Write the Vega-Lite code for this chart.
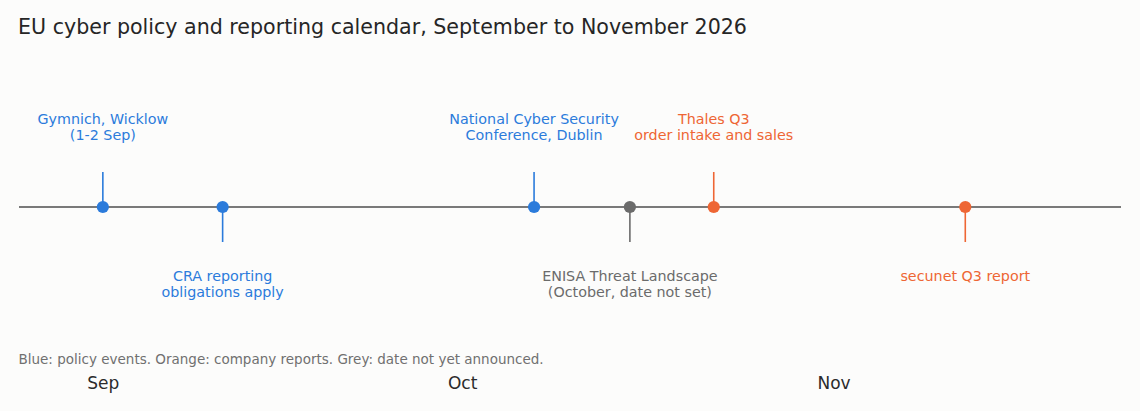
{
  "$schema": "https://vega.github.io/schema/vega-lite/v6.json",
  "width": 1102,
  "height": 312,
  "padding": {"top": 18, "left": 18, "right": 19, "bottom": 21},
  "background": "#fcfcfb",
  "title": {
    "text": "EU cyber policy and reporting calendar, September to November 2026",
    "anchor": "start",
    "fontSize": 20.6,
    "fontWeight": "normal",
    "color": "#262626",
    "font": "DejaVu Sans",
    "offset": 20
  },
  "config": {
    "view": {"stroke": null},
    "font": "DejaVu Sans",
    "text": {"font": "DejaVu Sans"}
  },
  "data": {
    "values": [
      {"date": "2026-09-01", "label": "Gymnich, Wicklow\n(1-2 Sep)", "kind": "policy", "side": "above"},
      {"date": "2026-09-11", "label": "CRA reporting\nobligations apply", "kind": "policy", "side": "below"},
      {"date": "2026-10-07", "label": "National Cyber Security\nConference, Dublin", "kind": "policy", "side": "above"},
      {"date": "2026-10-15", "label": "ENISA Threat Landscape\n(October, date not set)", "kind": "unannounced", "side": "below"},
      {"date": "2026-10-22", "label": "Thales Q3\norder intake and sales", "kind": "company", "side": "above"},
      {"date": "2026-11-12", "label": "secunet Q3 report", "kind": "company", "side": "below"}
    ]
  },
  "encoding": {
    "x": {
      "field": "date",
      "type": "temporal",
      "scale": {
        "type": "utc",
        "domain": [
          {"year": 2026, "month": 8, "date": 25, "utc": true},
          {"year": 2026, "month": 11, "date": 25, "utc": true}
        ]
      },
      "axis": {
        "values": [
          {"year": 2026, "month": 9, "date": 1, "utc": true},
          {"year": 2026, "month": 10, "date": 1, "utc": true},
          {"year": 2026, "month": 11, "date": 1, "utc": true}
        ],
        "labelExpr": "utcFormat(datum.value, '%b')",
        "domain": false,
        "ticks": false,
        "grid": false,
        "labelFontSize": 17,
        "labelColor": "#2b2b2b",
        "labelPadding": 4,
        "title": "Blue: policy events. Orange: company reports. Grey: date not yet announced.",
        "titleX": -1,
        "titleY": -12,
        "titleAlign": "left",
        "titleAnchor": "start",
        "titleBaseline": "middle",
        "titleFontSize": 13.5,
        "titleFontWeight": "normal",
        "titleColor": "#707070"
      }
    },
    "color": {
      "field": "kind",
      "type": "nominal",
      "scale": {
        "domain": ["policy", "company", "unannounced"],
        "range": ["#2b7bdb", "#ee6634", "#6b6b6b"]
      },
      "legend": null
    }
  },
  "layer": [
    {
      "mark": {"type": "rule", "color": "#7a7a7a", "strokeWidth": 1.6},
      "encoding": {
        "x": null,
        "color": null,
        "y": {
          "datum": "line",
          "type": "nominal",
          "scale": {"type": "point", "domain": ["above", "line", "below"], "range": [113, 183], "padding": 0},
          "axis": null
        }
      }
    },
    {
      "mark": {"type": "rule", "strokeWidth": 1.6},
      "encoding": {
        "y": {"field": "side", "type": "nominal", "axis": null},
        "y2": {"datum": "line"}
      }
    },
    {
      "mark": {"type": "point", "filled": true, "opacity": 1, "size": 150},
      "encoding": {
        "y": {"datum": "line", "type": "nominal", "axis": null}
      }
    },
    {
      "transform": [{"filter": "datum.side === 'above'"}],
      "mark": {"type": "text", "baseline": "bottom", "align": "center", "dy": -45, "fontSize": 14.3, "lineHeight": 16, "lineBreak": "\n"},
      "encoding": {
        "y": {"field": "side", "type": "nominal", "axis": null},
        "text": {"field": "label"}
      }
    },
    {
      "transform": [{"filter": "datum.side === 'below'"}],
      "mark": {"type": "text", "baseline": "top", "align": "center", "dy": 28, "fontSize": 14.3, "lineHeight": 16, "lineBreak": "\n"},
      "encoding": {
        "y": {"field": "side", "type": "nominal", "axis": null},
        "text": {"field": "label"}
      }
    }
  ]
}
